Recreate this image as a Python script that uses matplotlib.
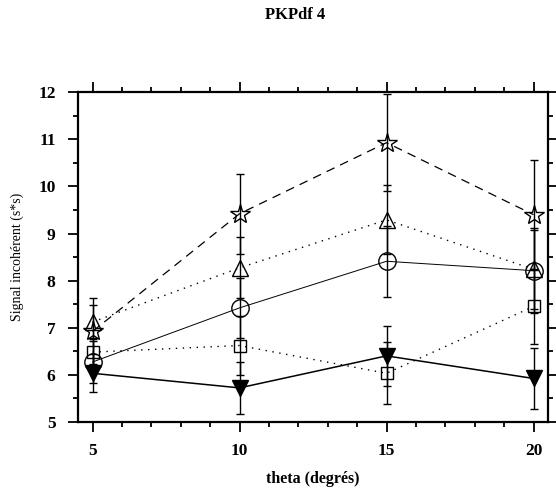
import numpy as np
import matplotlib
matplotlib.use("Agg")
import matplotlib.pyplot as plt
from matplotlib.ticker import MultipleLocator

plt.rcParams['font.family'] = ['Liberation Serif', 'DejaVu Serif']

theta = [5, 10, 15, 20]

# valeurs
star_y = [6.92, 9.42, 10.93, 9.40]
star_err = [0.70, 0.85, 1.03, 1.17]
tri_y = [7.12, 8.27, 9.29, 8.24]
tri_err = [0.37, 0.65, 0.73, 0.84]
circ_y = [6.27, 7.42, 8.41, 8.21]
circ_err = [0.45, 0.64, 0.76, 0.90]
sq_y = [6.48, 6.62, 6.03, 7.45]
sq_err = [0.30, 0.62, 0.66, 0.80]
inv_y = [6.03, 5.72, 6.40, 5.92]
inv_err = [0.40, 0.55, 0.63, 0.65]

fig = plt.figure(figsize=(5.56, 4.91), dpi=100)
ax = fig.add_axes([0.140, 0.141, 0.846, 0.671])

series = [
    (star_y, star_err, '*', (0, (7, 5)), 'none', 15, 0.9),
    (tri_y, tri_err, '^', (0, (1, 4)), 'none', 12, 1.0),
    (circ_y, circ_err, 'o', '-', 'none', 12.5, 0.7),
    (sq_y, sq_err, 's', (0, (1, 4)), 'none', 9, 1.0),
    (inv_y, inv_err, 'v', '-', 'black', 12, 1.1),
]

for y, e, m, ls, fc, ms, lw in series:
    ax.errorbar(theta, y, yerr=e, fmt='none', ecolor='black',
                elinewidth=1.0, capsize=3, capthick=1.0, zorder=2)
    ax.plot(theta, y, color='black', linestyle=ls, linewidth=lw,
            marker=m, markersize=ms, markerfacecolor=fc,
            markeredgecolor='black', markeredgewidth=1.0, zorder=3)

ax.set_xlim(4.5, 20.5)
ax.set_ylim(5, 12)
ax.set_xticks(theta)
ax.xaxis.set_minor_locator(MultipleLocator(1))
ax.yaxis.set_major_locator(MultipleLocator(1))
ax.yaxis.set_minor_locator(MultipleLocator(0.5))

for s in ax.spines.values():
    s.set_linewidth(1.6)

ax.tick_params(which='both', direction='out', top=True, right=True,
               width=1.3)
ax.tick_params(which='major', length=7, labelsize=12.5)
ax.tick_params(which='minor', length=3.5)
ax.tick_params(axis='y', which='major', pad=9)
ax.tick_params(axis='x', which='major', pad=8)
for lab in ax.get_xticklabels() + ax.get_yticklabels():
    lab.set_fontweight('bold')

ax.set_xlabel('theta (degrés)', fontsize=11.5, fontweight='bold', labelpad=9)
ax.set_ylabel('Signal incohérent (s*s)', fontsize=10, labelpad=10)

fig.text(0.53, 0.969, 'PKPdf 4', ha='center', va='center',
         fontsize=12, fontweight='bold')

fig.savefig('out.png', dpi=100)
